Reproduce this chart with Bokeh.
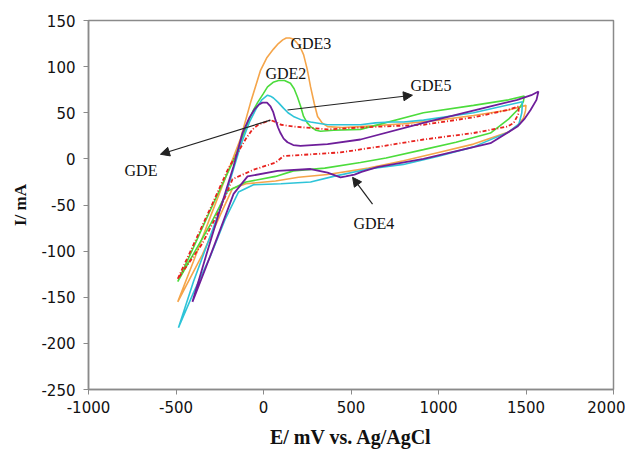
from bokeh.plotting import figure
from bokeh.models import Range1d, Arrow, NormalHead, Label, FixedTicker
from bokeh.embed import file_html
from bokeh.resources import INLINE

# ---- data (E in mV, I in mA), forward branch then reverse branch ----
E_gde = [-490, -400, -300, -200, -100, -63, -30, 11, 40, 70, 100, 171, 366, 554, 914, 1200, 1394, 1460,
         1455, 1430, 1394, 1200, 914, 686, 440, 114, 69, -60, -177, -250, -350, -490]
I_gde = [-130, -93, -52, -10, 22, 32, 37, 40, 42, 40, 37, 35, 32, 34, 37, 45, 53, 57,
         48, 39, 35, 28, 21, 14, 7, 3, -4, -12, -22, -55, -92, -130]

E_gde2 = [-490, -400, -300, -160, -100, -60, -34, 0, 23, 55, 86, 120, 154, 175, 194, 212, 229, 250, 269, 300, 326, 400, 554, 914, 1200, 1400, 1490,
          1485, 1465, 1451, 1400, 1297, 1100, 914, 700, 554, 350, 171, 69, -100, -206, -300, -400, -490]
I_gde2 = [-133, -96, -54, 3, 34, 52, 61, 71, 78, 83, 85, 85, 82, 76, 67, 57, 46, 39, 35, 31, 30, 31, 32, 50, 58, 64, 68,
          62, 56, 53, 43, 28, 18, 10, 1, -4, -10, -13, -19, -25, -35, -70, -103, -133]

E_gde3 = [-490, -400, -300, -200, -131, -74, -17, 20, 57, 85, 110, 130, 150, 170, 190, 210, 229, 250, 269, 290, 309, 335, 366, 450, 554, 800, 1000, 1200, 1400, 1500,
          1497, 1485, 1450, 1400, 1200, 1000, 800, 600, 366, 200, 69, -100, -177, -250, -350, -490]
I_gde3 = [-155, -111, -61, -12, 22, 61, 96, 110, 119, 125, 129, 131, 131, 130, 126, 121, 113, 97, 78, 60, 46, 39, 35, 34, 35, 38, 42, 47, 53, 58,
          52, 44, 36, 29, 16, 7, -2, -10, -17, -20, -24, -27, -32, -62, -104, -155]

E_gde4 = [-406, -330, -250, -171, -120, -80, -50, -25, -6, 20, 40, 55, 69, 83, 97, 115, 137, 170, 211, 366, 554, 914, 1297, 1450, 1530, 1571,
          1560, 1526, 1490, 1451, 1297, 914, 650, 560, 520, 497, 470, 440, 366, 269, 80, -91, -171, -250, -330, -406]
I_gde4 = [-155, -106, -56, -8, 28, 45, 54, 59, 61, 61, 57, 51, 42, 34, 28, 22, 18, 15, 14, 16, 21, 39, 57, 64, 69, 73,
          64, 53, 43, 35, 17, 0, -9, -14, -17, -18, -19, -20, -15, -11, -13, -19, -38, -78, -118, -155]

E_gde5 = [-486, -400, -303, -206, -130, -80, -40, -10, 23, 40, 57, 85, 114, 140, 171, 220, 269, 366, 554, 640, 726, 800, 914, 1200, 1480,
          1476, 1460, 1400, 1200, 1000, 800, 600, 400, 269, 100, -57, -143, -220, -300, -400, -486]
I_gde5 = [-183, -133, -83, -33, 15, 40, 55, 64, 69, 68, 66, 61, 55, 50, 46, 42, 40, 37, 37, 39, 40, 40, 42, 50, 62,
          50, 38, 29, 13, 3, -6, -11, -19, -25, -27, -28, -36, -66, -104, -145, -183]

# axis ticks
x_ticks = [-1000, -500, 0, 500, 1000, 1500, 2000]
y_ticks = [-250, -200, -150, -100, -50, 0, 50, 100, 150]

# annotation anchors (data coords)
lab_text = ["GDE", "GDE2", "GDE3", "GDE4", "GDE5"]
lab_x = [-794, 11, 154, 514, 840]
lab_y = [-13, 93, 125, -70, 80]
arr_start = [(40, 42), (137, 53), (623, -49)]
arr_end = [(-589, 5), (851, 69), (509, -20)]

p = figure(width=625, height=450, output_backend="svg", toolbar_location=None,
           x_range=Range1d(-1000, 2000), y_range=Range1d(-250, 150),
           min_border_left=88, min_border_right=12, min_border_top=20, min_border_bottom=58)
p.xgrid.visible = False
p.ygrid.visible = False
p.outline_line_color = "#8a8a8a"
p.outline_line_width = 1.5

p.line(E_gde3, I_gde3, color="#F5A54A", line_width=1.6)
p.line(E_gde2, I_gde2, color="#4CDC3C", line_width=1.6)
p.line(E_gde5, I_gde5, color="#2EC4D8", line_width=1.6)
p.line(E_gde, I_gde, color="#E8221E", line_width=1.8, line_dash="4 2 1 2")
p.line(E_gde4, I_gde4, color="#6E1E9A", line_width=1.8)

for ax in (p.xaxis[0], p.yaxis[0]):
    ax.axis_line_color = "#8a8a8a"
    ax.axis_line_width = 1.5
    ax.major_tick_line_color = "#8a8a8a"
    ax.major_tick_in = 0
    ax.major_tick_out = 5
    ax.minor_tick_line_color = None
    ax.major_label_text_font = "DejaVu Sans"
    ax.major_label_text_font_size = "15px"
    ax.major_label_text_color = "#111111"
    ax.axis_label_text_font = "Liberation Serif"
    ax.axis_label_text_font_style = "bold"
    ax.axis_label_text_color = "#111111"

p.xaxis[0].axis_label_text_font_size = "20px"
p.yaxis[0].axis_label_text_font_size = "17px"
p.xaxis[0].ticker = FixedTicker(ticks=x_ticks)
p.yaxis[0].ticker = FixedTicker(ticks=y_ticks)
p.xaxis[0].major_label_overrides = {t: str(t) for t in x_ticks}
p.yaxis[0].major_label_overrides = {t: str(t) for t in y_ticks}
p.xaxis[0].axis_label = "E/ mV vs. Ag/AgCl"
p.yaxis[0].axis_label = "I/ mA"
p.xaxis[0].major_label_standoff = 6
p.yaxis[0].major_label_standoff = 8
p.xaxis[0].axis_label_standoff = 10
p.yaxis[0].axis_label_standoff = 8

for t, x, y in zip(lab_text, lab_x, lab_y):
    p.add_layout(Label(x=x, y=y, text=t, text_font="Liberation Serif", text_font_size="16px",
                       text_baseline="middle", text_color="#111111"))

for (x0, y0), (x1, y1) in zip(arr_start, arr_end):
    p.add_layout(Arrow(x_start=x0, y_start=y0, x_end=x1, y_end=y1, line_color="#222222", line_width=1.2,
                       end=NormalHead(size=9, fill_color="#222222", line_color="#222222")))

open("out.html", "w").write(file_html(p, INLINE))
